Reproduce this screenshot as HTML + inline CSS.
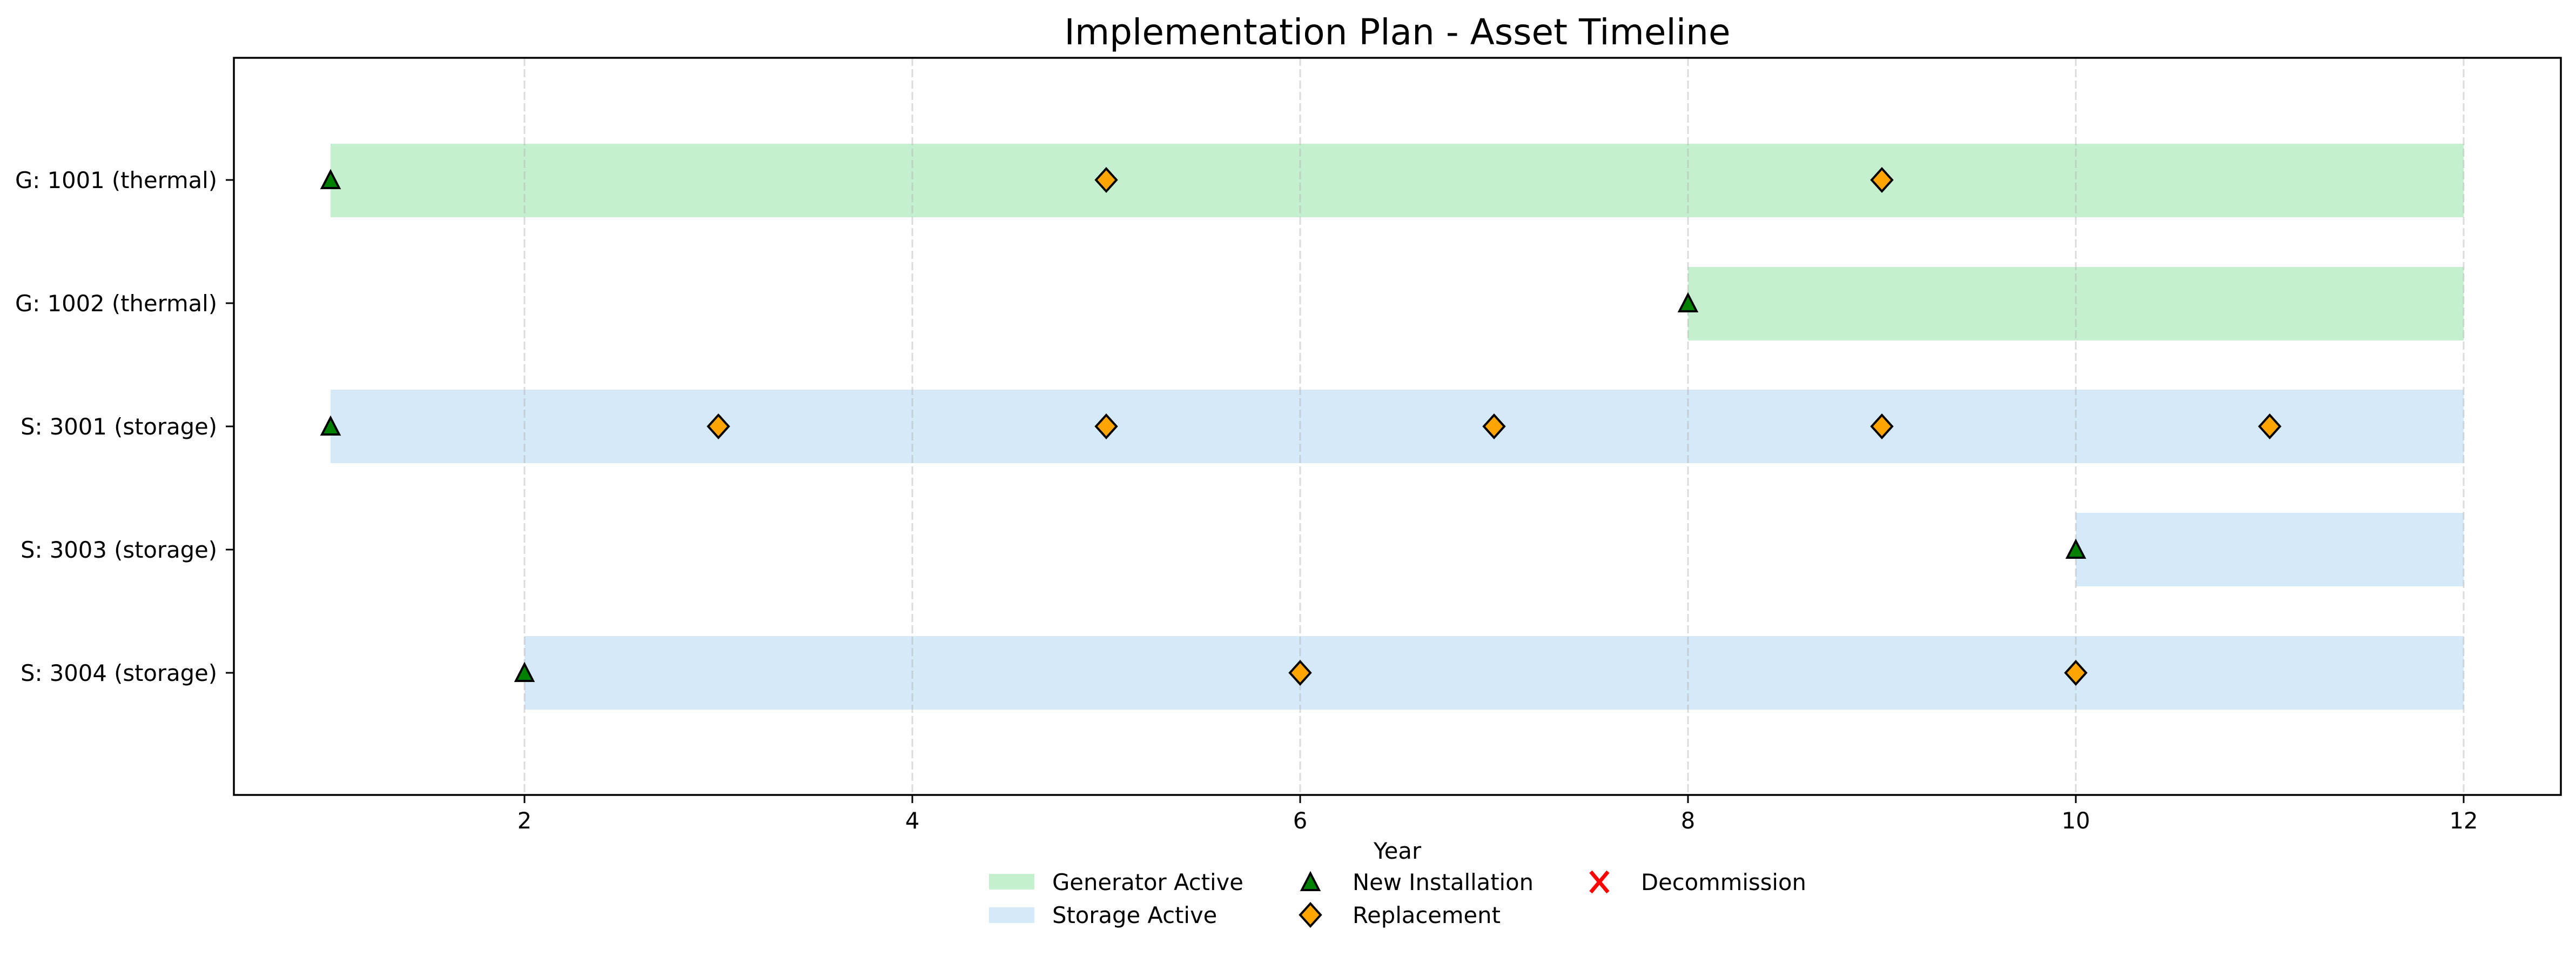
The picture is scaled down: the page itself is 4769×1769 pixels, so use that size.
<!DOCTYPE html>
<html><head><meta charset="utf-8"><style>
html,body{margin:0;padding:0;background:#fff;}
svg{display:block;}
text{font-family:"DejaVu Sans","Liberation Sans",sans-serif;fill:#000;}
</style></head><body>
<svg width="4769" height="1769" viewBox="0 0 4769 1769" xmlns="http://www.w3.org/2000/svg">
<defs>
<path id="tri" d="M0,-16 L16,15 L-16,15 Z" fill="#008000" stroke="#000" stroke-width="4" stroke-linejoin="miter"/>
<path id="dia" d="M0,-21 L19,0 L0,21 L-19,0 Z" fill="#ffa500" stroke="#000" stroke-width="4"/>
</defs>
<text x="2587" y="82" font-size="66" text-anchor="middle">Implementation Plan - Asset Timeline</text>
<!-- bars -->
<rect x="612" y="266" width="3949" height="136" fill="#c5f0d0"/>
<rect x="3125" y="494" width="1436" height="136" fill="#c5f0d0"/>
<rect x="612" y="721" width="3949" height="136" fill="#d5eaf8"/>
<rect x="3843" y="949" width="718" height="136" fill="#d5eaf8"/>
<rect x="971" y="1177" width="3590" height="136" fill="#d5eaf8"/>
<!-- grid -->
<g stroke="#b0b0b0" stroke-opacity="0.45" stroke-width="3" stroke-dasharray="15 6">
<line x1="971" y1="107" x2="971" y2="1471"/>
<line x1="1689" y1="107" x2="1689" y2="1471"/>
<line x1="2407" y1="107" x2="2407" y2="1471"/>
<line x1="3125" y1="107" x2="3125" y2="1471"/>
<line x1="3843" y1="107" x2="3843" y2="1471"/>
<line x1="4561" y1="107" x2="4561" y2="1471"/>
</g>
<!-- markers -->
<use href="#tri" x="612" y="333"/>
<use href="#dia" x="2048" y="333"/>
<use href="#dia" x="3484" y="333"/>
<use href="#tri" x="3125" y="561"/>
<use href="#tri" x="612" y="789"/>
<use href="#dia" x="1330" y="789"/>
<use href="#dia" x="2048" y="789"/>
<use href="#dia" x="2766" y="789"/>
<use href="#dia" x="3484" y="789"/>
<use href="#dia" x="4202" y="789"/>
<use href="#tri" x="3843" y="1017"/>
<use href="#tri" x="971" y="1245"/>
<use href="#dia" x="2407" y="1245"/>
<use href="#dia" x="3843" y="1245"/>
<!-- axes frame -->
<rect x="433" y="107" width="4308" height="1364" fill="none" stroke="#000" stroke-width="3.5"/>
<!-- y ticks -->
<g stroke="#000" stroke-width="3">
<line x1="418" y1="333" x2="433" y2="333"/>
<line x1="418" y1="561" x2="433" y2="561"/>
<line x1="418" y1="789" x2="433" y2="789"/>
<line x1="418" y1="1017" x2="433" y2="1017"/>
<line x1="418" y1="1245" x2="433" y2="1245"/>
</g>
<g font-size="41.7" text-anchor="end">
<text x="402" y="348">G: 1001 (thermal)</text>
<text x="402" y="576">G: 1002 (thermal)</text>
<text x="402" y="804">S: 3001 (storage)</text>
<text x="402" y="1032">S: 3003 (storage)</text>
<text x="402" y="1260">S: 3004 (storage)</text>
</g>
<!-- x ticks -->
<g stroke="#000" stroke-width="3">
<line x1="971" y1="1471" x2="971" y2="1486"/>
<line x1="1689" y1="1471" x2="1689" y2="1486"/>
<line x1="2407" y1="1471" x2="2407" y2="1486"/>
<line x1="3125" y1="1471" x2="3125" y2="1486"/>
<line x1="3843" y1="1471" x2="3843" y2="1486"/>
<line x1="4561" y1="1471" x2="4561" y2="1486"/>
</g>
<g font-size="41.7" text-anchor="middle">
<text x="971" y="1533">2</text>
<text x="1689" y="1533">4</text>
<text x="2407" y="1533">6</text>
<text x="3125" y="1533">8</text>
<text x="3843" y="1533">10</text>
<text x="4561" y="1533">12</text>
<text x="2587" y="1589">Year</text>
</g>
<!-- legend -->
<rect x="1831" y="1617" width="84" height="29" fill="#c5f0d0"/>
<rect x="1831" y="1679" width="84" height="29" fill="#d5eaf8"/>
<use href="#tri" x="2426" y="1632"/>
<use href="#dia" x="2426" y="1693"/>
<g stroke="#ff0000" stroke-width="7">
<line x1="2945" y1="1613" x2="2977" y2="1651"/>
<line x1="2977" y1="1613" x2="2945" y2="1651"/>
</g>
<g font-size="41.7">
<text x="1948" y="1647">Generator Active</text>
<text x="1948" y="1708">Storage Active</text>
<text x="2504" y="1647">New Installation</text>
<text x="2504" y="1708">Replacement</text>
<text x="3038" y="1647">Decommission</text>
</g>
</svg>
</body></html>
